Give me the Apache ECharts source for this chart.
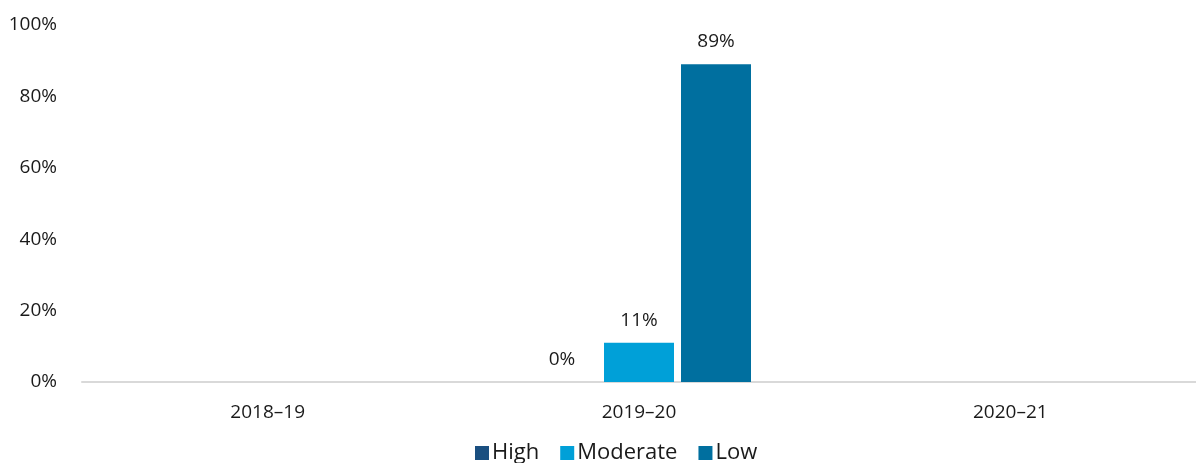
<!DOCTYPE html>
<html>
<head>
<meta charset="utf-8">
<script src="https://cdn.jsdelivr.net/npm/echarts@6/dist/echarts.min.js"></script>
<style>
html,body{margin:0;padding:0;background:#fff;}
#chart{width:1196px;height:463px;}
</style>
</head>
<body>
<div id="chart"></div>
<script>
const categories = ['2018–19', '2019–20', '2020–21'];
const seriesNames = ['High', 'Moderate', 'Low'];
const highValues = [null, 0, null];
const moderateValues = [null, 11, null];
const lowValues = [null, 89, null];
const yTicks = [0, 20, 40, 60, 80, 100];
const colors = ['#1a4f80', '#00a0d8', '#006f9f'];

const FONT = '"Open Sans", "Liberation Sans", sans-serif';
const chart = echarts.init(document.getElementById('chart'), null, {renderer: 'canvas'});

function mk(name, data, color) {
  return {
    name: name,
    type: 'bar',
    data: data,
    barWidth: 70,
    barGap: '10%',
    itemStyle: {color: color},
    label: {
      show: true,
      position: 'top',
      distance: 13,
      formatter: p => p.value == null ? '' : p.value + '%',
      color: '#1a1a1a',
      fontSize: 19,
      fontFamily: FONT
    }
  };
}

chart.setOption({
  animation: false,
  backgroundColor: '#fff',
  grid: {left: 82, right: 0, top: 25, bottom: 81, containLabel: false},
  legend: {
    data: seriesNames,
    bottom: -6,
    left: 470,
    itemWidth: 14,
    itemHeight: 14,
    itemGap: 21,
    icon: 'rect',
    textStyle: {fontSize: 22, fontFamily: FONT, color: '#1a1a1a', padding: [0, 0, 0, -2]}
  },
  xAxis: {
    type: 'category',
    data: categories,
    axisLine: {lineStyle: {color: '#d9d9d9', width: 2}},
    axisTick: {show: false},
    axisLabel: {fontSize: 19, fontFamily: FONT, color: '#1a1a1a', margin: 21}
  },
  yAxis: {
    type: 'value',
    min: 0,
    max: 100,
    interval: 20,
    splitLine: {show: false},
    axisLine: {show: false},
    axisTick: {show: false},
    axisLabel: {
      fontSize: 19, fontFamily: FONT, color: '#1a1a1a', margin: 25,
      formatter: v => yTicks.includes(v) ? v + '%' : ''
    }
  },
  series: [
    mk(seriesNames[0], highValues, colors[0]),
    mk(seriesNames[1], moderateValues, colors[1]),
    mk(seriesNames[2], lowValues, colors[2])
  ]
});
</script>
</body>
</html>
